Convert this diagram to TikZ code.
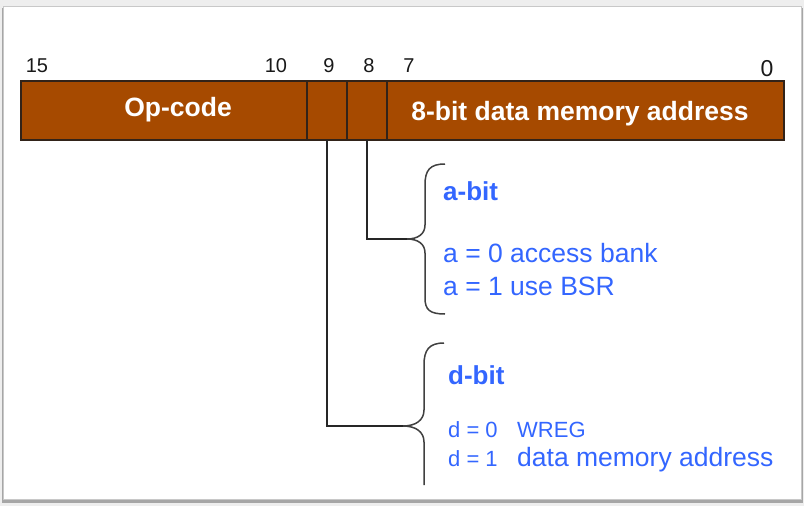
\documentclass[tikz,border=0pt]{standalone}
\usepackage{fontspec}
\setmainfont{Liberation Sans}
\definecolor{barbrown}{RGB}{166,74,0}
\definecolor{barline}{RGB}{50,35,25}
\definecolor{txtblue}{RGB}{51,102,255}
\definecolor{cardedge}{RGB}{200,200,200}
\definecolor{bgray}{RGB}{238,238,238}
\begin{document}
\begin{tikzpicture}[x=1pt,y=-1pt,
  field/.style={draw=barline,line width=1.2pt,fill=barbrown,minimum height=59pt,inner sep=0pt,outer sep=0pt,anchor=north west},
  bitlab/.style={font=\fontsize{20}{20}\selectfont,text=black!90,inner sep=0pt,anchor=base},
  fieldtxt/.style={font=\fontsize{26.5}{26.5}\selectfont\bfseries,text=white,inner sep=0pt,anchor=base},
  head/.style={font=\fontsize{26}{26}\selectfont\bfseries,text=txtblue,inner sep=0pt,anchor=base west},
  body/.style={font=\fontsize{26.5}{26.5}\selectfont,text=txtblue,inner sep=0pt,anchor=base west},
  small/.style={font=\fontsize{22}{22}\selectfont,text=txtblue,inner sep=0pt,anchor=base west},
  wire/.style={draw=black!85,line width=1.3pt},
  bracestyle/.style={draw=black!75,line width=1.5pt}]
\useasboundingbox (0,0) rectangle (804,506);
\fill[bgray] (0,0) rectangle (804,506);
\fill[black!35] (2,8) rectangle (803,503);
\fill[white,draw=cardedge,line width=0.8pt] (3,6) rectangle (801,499);
% fields
\node[field,minimum width=286pt] (opcode) at (21,81) {};
\node[field,minimum width=40pt] (dfield) at (307,81) {};
\node[field,minimum width=40pt] (afield) at (347,81) {};
\node[field,minimum width=397pt] (addr) at (387,81) {};
\node[fieldtxt] (optxt) at (178,116) {Op-code};
\node[fieldtxt] (addrtxt) at (580,120) {8-bit data memory address};
% bit numbers
\node[bitlab] (b15) at (37,72) {15};
\node[bitlab] (b10) at (276,72) {10};
\node[bitlab] (b9) at (329,72) {9};
\node[bitlab] (b8) at (369,72) {8};
\node[bitlab] (b7) at (409,72) {7};
\node[bitlab,font=\fontsize{23}{23}\selectfont] (b0) at (767,76) {0};
% braces
\coordinate (atip) at (407,239);
\coordinate (dtip) at (403,426);
\path[bracestyle] (445,164) .. controls (430,164) and (425,170) .. (425,185) -- (425,225)
  .. controls (425,234) and (418,239) .. (atip)
  .. controls (418,239) and (425,244) .. (425,253) -- (425,298)
  .. controls (425,310) and (430,314) .. (445,314);
\path[bracestyle] (444,343) .. controls (429,343) and (424,350) .. (424,365) -- (424,410)
  .. controls (424,420) and (416,426) .. (dtip)
  .. controls (416,426) and (424,432) .. (424,442) -- (424,485);
% connectors
\draw[wire] (afield.south) |- (atip);
\draw[wire] (dfield.south) |- (dtip);
% texts
\node[head] (abit) at (443,200) {a-bit};
\node[body] (a0) at (443,262) {a = 0 access bank};
\node[body] (a1) at (443,295) {a = 1 use BSR};
\node[head] (dbit) at (448,384) {d-bit};
\node[small] (d0) at (448,437) {d = 0};
\node[small] (wreg) at (517,437) {WREG};
\node[small] (d1) at (448,466) {d = 1};
\node[body] (dma) at (517,466) {data memory address};
\end{tikzpicture}
\end{document}
